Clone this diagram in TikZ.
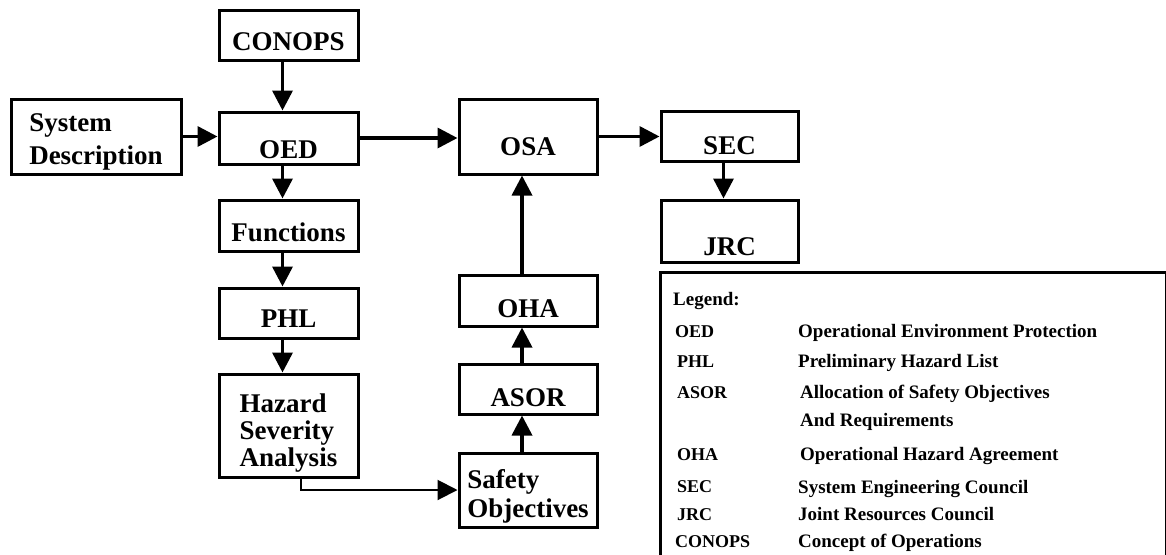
\documentclass[tikz,border=0pt]{standalone}
\usepackage{fontspec}
\setmainfont{Liberation Serif}
\usepackage{tikz}
\usetikzlibrary{arrows.meta,positioning,calc}
\tikzstyle{bloc}=[draw, line width=3pt, minimum width=139pt, inner xsep=0pt, inner ysep=0pt, text depth=0pt, font=\fontsize{27}{27}\selectfont\bfseries]
\tikzstyle{fleche}=[line width=3.5pt, -{Triangle[length=20pt,width=20pt]}]
\tikzstyle{legende}=[anchor=base west, inner sep=0pt, font=\fontsize{19}{19}\selectfont\bfseries]
\tikzstyle{sigle}=[anchor=base west, inner sep=0pt, font=\fontsize{18}{18}\selectfont\bfseries]

\begin{document}
\begin{tikzpicture}[x=1pt,y=-1pt]
\useasboundingbox (0,0) rectangle (1166,554);

% colonne gauche
\node[bloc, minimum height=50pt, text height=30pt] (conops) at (288.5,35) {CONOPS};
\node[bloc, minimum height=52pt, text height=40pt] (oed) at (288.5,138) {OED};
\node[bloc, minimum width=170pt, minimum height=75pt, align=left, text height=60pt, text depth=5pt, font=\fontsize{27}{33}\selectfont\bfseries] (sysdesc) at (96,136.5) {System\\Description};
\node[bloc, minimum height=51pt, text height=32pt] (functions) at (288.5,225.5) {Functions};
\node[bloc, minimum height=50pt, text height=28pt] (phl) at (288.5,313) {PHL};
\node[bloc, minimum height=103pt, align=left, text height=85pt, text depth=4pt, font=\fontsize{27}{27}\selectfont\bfseries] (hsa) at (288.5,425.5) {Hazard\\Severity\\Analysis};

% colonne OSA
\node[bloc, minimum width=138pt, minimum height=75pt, text height=38pt] (osa) at (528,136.5) {OSA};
\node[bloc, minimum width=138pt, minimum height=51pt, text height=34pt] (oha) at (528,300.5) {OHA};
\node[bloc, minimum width=138pt, minimum height=50pt, text height=34pt] (asor) at (528,389) {ASOR};
\node[bloc, minimum width=138pt, minimum height=74pt, align=left, text height=58pt, text depth=4pt, font=\fontsize{27}{29}\selectfont\bfseries] (safety) at (528,490) {Safety\\Objectives};

% SEC, JRC
\node[bloc, minimum width=137pt, minimum height=50pt, text height=36pt] (sec) at (729.5,136) {SEC};
\node[bloc, minimum width=137pt, minimum height=62pt, text height=48pt] (jrc) at (729.5,231) {JRC};

% fleches
\draw[fleche] ([xshift=-6pt]conops.south) -- ([xshift=-6pt]oed.north);
\draw[fleche] (sysdesc.east) -- (sysdesc.east -| oed.west);
\draw[fleche] ([xshift=-6pt]oed.south) -- ([xshift=-6pt]functions.north);
\draw[fleche] ([xshift=-6pt]functions.south) -- ([xshift=-6pt]phl.north);
\draw[fleche] ([xshift=-6pt]phl.south) -- ([xshift=-6pt]hsa.north);
\draw[fleche] (oed.east) -- (oed.east -| osa.west);
\draw[fleche] (osa.east) -- (osa.east -| sec.west);
\draw[fleche] ([xshift=-6pt]sec.south) -- ([xshift=-6pt]jrc.north);
\draw[fleche] ([xshift=-6pt]safety.north) -- ([xshift=-6pt]asor.south);
\draw[fleche] ([xshift=-6pt]asor.north) -- ([xshift=-6pt]oha.south);
\draw[fleche] ([xshift=-6pt]oha.north) -- ([xshift=-6pt]osa.south);
\draw[fleche, line width=2pt] ([xshift=12.5pt]hsa.south) |- (safety.west);

% legende
\draw[line width=3pt] (660.5,572) -- (660.5,272) -- (1166,272) -- (1166,572);
\node[legende] (legend) at (673,305) {Legend:};
\node[sigle] (l-oed) at (675,337) {OED};
\node[legende] (d-oed) at (798,337) {Operational Environment Protection};
\node[sigle] (l-phl) at (677,367) {PHL};
\node[legende] (d-phl) at (798,367) {Preliminary Hazard List};
\node[sigle] (l-asor) at (677,398) {ASOR};
\node[legende] (d-asor) at (800,398) {Allocation of Safety Objectives};
\node[legende] (d-asor2) at (800,426) {And Requirements};
\node[sigle] (l-oha) at (677,460) {OHA};
\node[legende] (d-oha) at (800,460) {Operational Hazard Agreement};
\node[sigle] (l-sec) at (677,492) {SEC};
\node[legende] (d-sec) at (798,493) {System Engineering Council};
\node[sigle] (l-jrc) at (677,520) {JRC};
\node[legende] (d-jrc) at (798,520) {Joint Resources Council};
\node[sigle] (l-conops) at (675,547) {CONOPS};
\node[legende] (d-conops) at (798,547) {Concept of Operations};

\end{tikzpicture}
\end{document}
